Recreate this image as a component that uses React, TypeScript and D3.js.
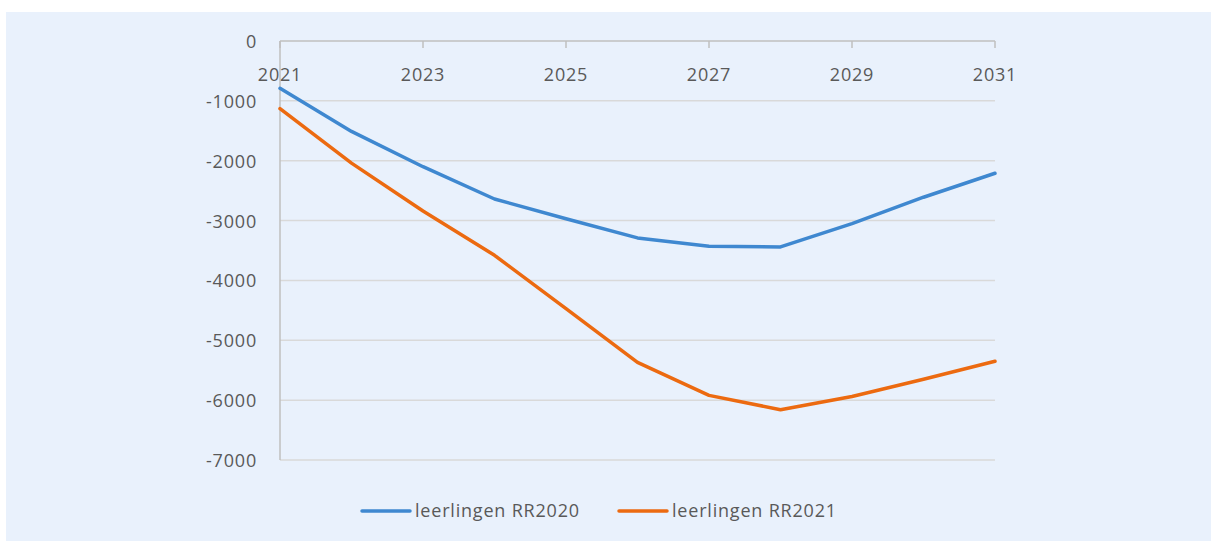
import React from "react";
import * as d3 from "d3";

const years = [2021, 2022, 2023, 2024, 2025, 2026, 2027, 2028, 2029, 2030, 2031];
const rr2020 = [-790, -1510, -2100, -2640, -2970, -3290, -3430, -3440, -3050, -2610, -2210];
const rr2021 = [-1130, -2040, -2840, -3580, -4470, -5370, -5920, -6160, -5940, -5650, -5350];
const yTicks = [0, -1000, -2000, -3000, -4000, -5000, -6000, -7000];
const xLabelYears = [2021, 2023, 2025, 2027, 2029, 2031];
const seriesNames = ["leerlingen RR2020", "leerlingen RR2021"];
const seriesColors = ["#3F88D0", "#EC6A10"];

const W = 1211;
const H = 542;
const FONT = "'Open Sans', sans-serif";
const TEXT = "#595959";
const FS = 18;
const LS = 0.8;

export default function App() {
  const x = d3.scaleLinear().domain([2021, 2031]).range([280, 995]);
  const y = d3.scaleLinear().domain([0, -7000]).range([41, 460]);
  const line = d3
    .line<[number, number]>()
    .x((d) => x(d[0]))
    .y((d) => y(d[1]));
  const series = [rr2020, rr2021];

  return (
    <svg
      width={W}
      height={H}
      style={{ position: "fixed", left: 0, top: 0 }}
      fontFamily={FONT}
    >
      <rect x={0} y={0} width={W} height={H} fill="#ffffff" />
      <rect x={6} y={12} width={W - 6} height={H - 13} fill="#E9F1FC" />
      {yTicks.slice(1).map((t) => (
        <line key={t} x1={x(2021)} x2={x(2031)} y1={y(t)} y2={y(t)} stroke="#D9D9D9" strokeWidth={1.5} />
      ))}
      <line x1={x(2021)} x2={x(2021)} y1={y(0)} y2={y(-7000)} stroke="#BFBFBF" strokeWidth={1.5} />
      <line x1={x(2021)} x2={x(2031)} y1={y(0)} y2={y(0)} stroke="#BFBFBF" strokeWidth={1.5} />
      {years.filter((_, i) => i % 2 === 0).map((yr) => (
        <line key={yr} x1={x(yr)} x2={x(yr)} y1={y(0)} y2={y(0) + 7} stroke="#BFBFBF" strokeWidth={1.5} />
      ))}
      {yTicks.map((t) => (
        <text key={t} x={257} y={y(t) + 7} textAnchor="end" fontSize={FS} letterSpacing={LS} fill={TEXT}>
          {t}
        </text>
      ))}
      {xLabelYears.map((yr) => (
        <text key={yr} x={x(yr)} y={81} textAnchor="middle" fontSize={FS} letterSpacing={LS} fill={TEXT}>
          {yr}
        </text>
      ))}
      {series.map((s, i) => (
        <path
          key={i}
          d={line(years.map((yr, j) => [yr, s[j]] as [number, number])) || ""}
          fill="none"
          stroke={seriesColors[i]}
          strokeWidth={3.5}
          strokeLinejoin="round"
          strokeLinecap="round"
        />
      ))}
      {seriesNames.map((name, i) => {
        const lx = i === 0 ? 362 : 619;
        return (
          <g key={name}>
            <line x1={lx} x2={lx + 48} y1={511} y2={511} stroke={seriesColors[i]} strokeWidth={3.5} strokeLinecap="round" />
            <text x={lx + 53} y={517} fontSize={FS} letterSpacing={LS} fill={TEXT}>
              {name}
            </text>
          </g>
        );
      })}
    </svg>
  );
}
